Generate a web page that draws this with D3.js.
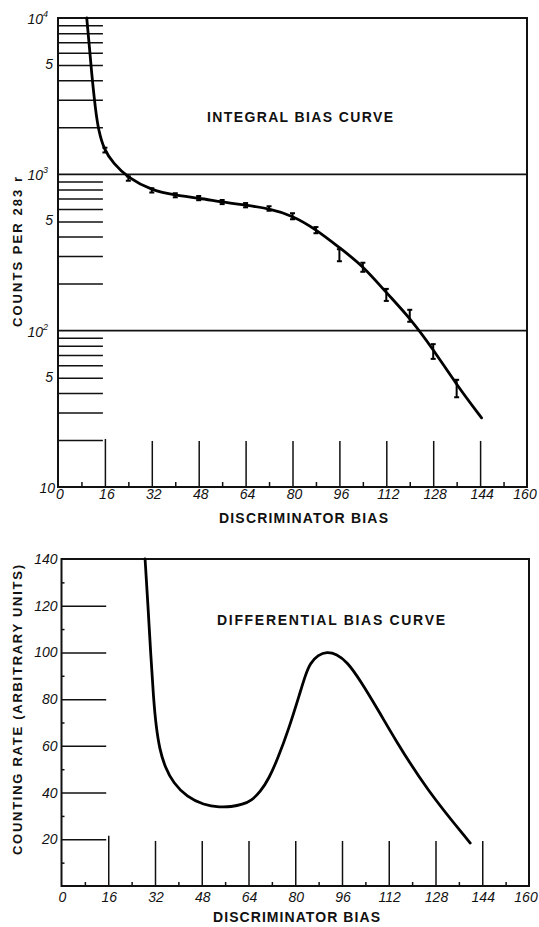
<!DOCTYPE html>
<html>
<head>
<meta charset="utf-8">
<title>Integral and differential bias curves</title>
<script src="https://d3js.org/d3.v7.min.js"></script>
<style>
  html, body { margin: 0; padding: 0; background: #fff; }
  svg { display: block; }
  .frame { fill: none; stroke: #111; stroke-width: 2px; }
  .grid { stroke: #111; stroke-width: 1.6px; }
  .tick line { stroke: #111; stroke-width: 1.5px; }
  .num { font-family: "Liberation Sans", Arial, sans-serif; font-style: italic; font-size: 14px; fill: #111; }
  .title { font-family: "Liberation Sans", Arial, sans-serif; font-weight: bold; font-size: 14px; fill: #111; }
  .ytitle { font-family: "Liberation Sans", Arial, sans-serif; font-weight: bold; font-size: 13px; fill: #111; }
  .curve { fill: none; stroke: #000; stroke-width: 2.8px; stroke-linejoin: round; stroke-linecap: round; }
  .err { stroke: #000; stroke-width: 2px; }
</style>
</head>
<body>
<div id="chart"></div>
<script>
// measured points of the integral bias curve (counts per 283 r)
const intBias = [16, 24, 32, 40, 48, 56, 64, 72, 80, 88, 96, 104, 112, 120, 128, 136];
const intCounts = [1430, 940, 790, 735, 705, 665, 635, 605, 540, 440, 305, 255, 170, 125, 74, 43];
const intErr = [50, 30, 25, 22, 22, 20, 20, 20, 24, 20, 27, 17, 15, 11, 8, 5.5];

// the smooth curve drawn through them
const intCurveBias = [9.8, 10.6, 11.6, 12.8, 13.8, 15.7, 18.8, 24, 32, 40, 48, 56, 64, 72, 80, 88, 96, 104, 112, 120, 128, 136, 144.5];
const intCurveCounts = [10000, 6920, 4190, 2580, 1920, 1440, 1180, 945, 790, 735, 705, 665, 635, 605, 545, 445, 340, 260, 175, 121, 76, 45, 27.7];

// differential bias curve (arbitrary units)
const diffBias = [28.6, 29.6, 30.5, 31.5, 32.4, 33.6, 35.4, 38.3, 42.9, 48.6, 54.3, 58, 62, 65, 68, 71, 74, 77.6, 81.7, 83.4, 85.1, 87.9, 90.8, 94.2, 97.7, 102.2, 109, 113.6, 125, 139.9];
const diffRate = [140, 120, 100, 80, 68, 58.5, 51, 44, 38.2, 34.7, 33.7, 33.9, 34.9, 36.6, 40.2, 46, 54.5, 66.5, 83, 90, 95.5, 99, 100.3, 99.3, 96, 88.2, 74, 63.9, 41.1, 18.4];

// ticks
const biasLabels = [0, 16, 32, 48, 64, 80, 96, 112, 128, 144, 160];
const biasMajor = [16, 32, 48, 64, 80, 96, 112, 128, 144];
const biasMinor = [8, 24, 40, 56, 72, 88, 104, 120, 136, 152];
const countDecades = [10, 100, 1000, 10000];
const countFives = [50, 500, 5000];
const rateLabels = [20, 40, 60, 80, 100, 120, 140];
const rateMinor = [10, 30, 50, 70, 90, 110, 130];

const W = 539, H = 927;
const svg = d3.select("#chart").append("svg")
  .attr("width", W).attr("height", H);

// ---------- top: integral bias curve ----------
const x1 = d3.scaleLinear().domain([0, 160]).range([58, 527]);
const y1 = d3.scaleLog().domain([10, 10000]).range([487, 18]);
const gTop = svg.append("g");

// minor lines 2..9 of each decade
const minorCounts = [];
countDecades.slice(0, 3).forEach(d => { for (let k = 2; k <= 9; k++) minorCounts.push(d * k); });
gTop.append("g")
  .attr("transform", `translate(${x1(0)},0)`)
  .call(d3.axisLeft(y1).tickValues(minorCounts).tickSize(-(x1(16) - x1(0) - 2)).tickFormat(""))
  .call(g => g.select(".domain").remove());

// full width lines at 10^2, 10^3
gTop.selectAll("line.grid").data([100, 1000]).join("line")
  .attr("class", "grid")
  .attr("x1", x1(0)).attr("x2", x1(160))
  .attr("y1", d => y1(d)).attr("y2", d => y1(d));

// tall bias ticks and short minor ones
gTop.append("g")
  .attr("transform", `translate(0,${y1(10)})`)
  .call(d3.axisBottom(x1).tickValues(biasMajor).tickSize(-(y1(10) - y1(20) - 1)).tickFormat(""))
  .call(g => g.select(".domain").remove())
  .call(g => g.selectAll(".tick line").filter(d => d === 16).attr("y2", -(y1(10) - y1(20) + 1)));
gTop.append("g")
  .attr("transform", `translate(0,${y1(10)})`)
  .call(d3.axisBottom(x1).tickValues(biasMinor).tickSize(-5).tickFormat(""))
  .call(g => g.select(".domain").remove());

gTop.append("rect").attr("class", "frame")
  .attr("x", x1(0)).attr("y", y1(10000))
  .attr("width", x1(160) - x1(0)).attr("height", y1(10) - y1(10000));

// bias labels
gTop.selectAll("text.xl").data(biasLabels).join("text")
  .attr("class", "num xl")
  .attr("x", d => Math.min(x1(d) + 2, 525)).attr("y", y1(10) + 12)
  .attr("text-anchor", "middle")
  .text(d => d);

// count labels
const decadeLbl = gTop.selectAll("text.dec").data(countDecades).join("text")
  .attr("class", "num dec")
  .attr("x", d => d === 10 ? x1(0) - 3 : x1(0) - 10)
  .attr("y", d => y1(d) + 6)
  .attr("text-anchor", "end")
  .attr("font-size", 13);
decadeLbl.append("tspan").text("10");
decadeLbl.filter(d => d > 10).append("tspan")
  .attr("font-size", 9).attr("dy", -7).attr("dx", 0)
  .text(d => Math.round(Math.log10(d)));
gTop.selectAll("text.five").data(countFives).join("text")
  .attr("class", "num five")
  .attr("x", x1(0) - 5).attr("y", d => y1(d) + 4)
  .attr("text-anchor", "end").attr("font-size", 12)
  .text("5");

// curve and points
const line1 = d3.line()
  .x((d, i) => x1(intCurveBias[i]))
  .y((d, i) => y1(intCurveCounts[i]))
  .curve(d3.curveBasis);
gTop.append("path").attr("class", "curve").attr("d", line1(intCurveBias));

const pts = gTop.selectAll("g.pt").data(intBias).join("g").attr("class", "pt");
pts.append("line").attr("class", "err")
  .attr("x1", d => x1(d)).attr("x2", d => x1(d))
  .attr("y1", (d, i) => y1(intCounts[i] + intErr[i]))
  .attr("y2", (d, i) => y1(intCounts[i] - intErr[i]));
pts.append("line").attr("class", "err")
  .attr("x1", d => x1(d) - 2.5).attr("x2", d => x1(d) + 2.5)
  .attr("y1", (d, i) => y1(intCounts[i] + intErr[i]))
  .attr("y2", (d, i) => y1(intCounts[i] + intErr[i]));
pts.append("line").attr("class", "err")
  .attr("x1", d => x1(d) - 2.5).attr("x2", d => x1(d) + 2.5)
  .attr("y1", (d, i) => y1(intCounts[i] - intErr[i]))
  .attr("y2", (d, i) => y1(intCounts[i] - intErr[i]));

gTop.append("text").attr("class", "title")
  .attr("x", 207).attr("y", 122)
  .attr("font-size", 15)
  .attr("textLength", 186).attr("lengthAdjust", "spacing")
  .text("INTEGRAL BIAS CURVE");
gTop.append("text").attr("class", "title")
  .attr("x", 219).attr("y", 523)
  .attr("textLength", 169).attr("lengthAdjust", "spacing")
  .text("DISCRIMINATOR BIAS");
gTop.append("text").attr("class", "ytitle")
  .attr("transform", "translate(22,327) rotate(-90)")
  .attr("textLength", 150).attr("lengthAdjust", "spacing")
  .text("COUNTS PER 283 r");

// ---------- bottom: differential bias curve ----------
const x2 = d3.scaleLinear().domain([0, 160]).range([61.5, 529]);
const y2 = d3.scaleLinear().domain([0, 140]).range([886, 559]);
const gBot = svg.append("g");

gBot.append("g")
  .attr("transform", `translate(${x2(0)},0)`)
  .call(d3.axisLeft(y2).tickValues(rateLabels.slice(0, -1)).tickSize(-(x2(15.3) - x2(0))).tickFormat(""))
  .call(g => g.select(".domain").remove());
gBot.append("g")
  .attr("transform", `translate(${x2(0)},0)`)
  .call(d3.axisLeft(y2).tickValues(rateMinor).tickSize(-3).tickFormat(""))
  .call(g => g.select(".domain").remove());

gBot.append("g")
  .attr("transform", `translate(0,${y2(0)})`)
  .call(d3.axisBottom(x2).tickValues(biasMajor).tickSize(-(y2(0) - y2(19.3))).tickFormat(""))
  .call(g => g.select(".domain").remove())
  .call(g => g.selectAll(".tick line").filter(d => d === 16).attr("y2", -(y2(0) - y2(21.5))));
gBot.append("g")
  .attr("transform", `translate(0,${y2(0)})`)
  .call(d3.axisBottom(x2).tickValues(biasMinor).tickSize(-4).tickFormat(""))
  .call(g => g.select(".domain").remove());

gBot.append("rect").attr("class", "frame")
  .attr("x", x2(0)).attr("y", y2(140))
  .attr("width", x2(160) - x2(0)).attr("height", y2(0) - y2(140));

gBot.selectAll("text.xl").data(biasLabels).join("text")
  .attr("class", "num xl")
  .attr("x", d => Math.min(x2(d) + 1, 526)).attr("y", y2(0) + 16)
  .attr("text-anchor", "middle")
  .text(d => d);
gBot.selectAll("text.yl").data(rateLabels).join("text")
  .attr("class", "num yl")
  .attr("x", x2(0) - 4).attr("y", d => y2(d) + 5)
  .attr("text-anchor", "end")
  .text(d => d);

const line2 = d3.line()
  .x((d, i) => x2(diffBias[i]))
  .y((d, i) => y2(diffRate[i]))
  .curve(d3.curveBasis);
gBot.append("path").attr("class", "curve").attr("d", line2(diffBias));

gBot.append("text").attr("class", "title")
  .attr("x", 217).attr("y", 625)
  .attr("font-size", 15)
  .attr("textLength", 228).attr("lengthAdjust", "spacing")
  .text("DIFFERENTIAL BIAS CURVE");
gBot.append("text").attr("class", "title")
  .attr("x", 213).attr("y", 922)
  .attr("textLength", 167).attr("lengthAdjust", "spacing")
  .text("DISCRIMINATOR BIAS");
gBot.append("text").attr("class", "ytitle")
  .attr("transform", "translate(22,855) rotate(-90)")
  .attr("textLength", 290).attr("lengthAdjust", "spacing")
  .text("COUNTING RATE (ARBITRARY UNITS)");
</script>
</body>
</html>
